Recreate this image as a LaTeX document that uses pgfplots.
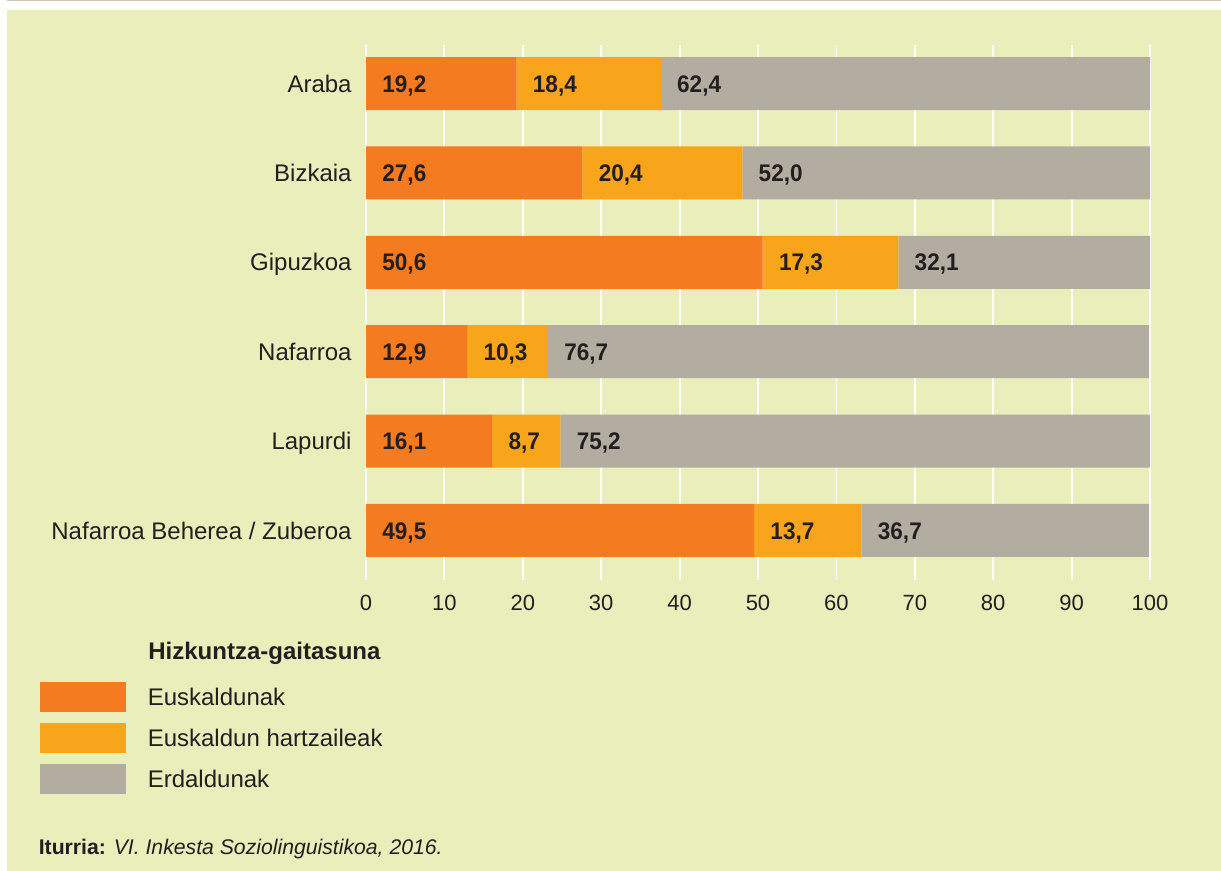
\documentclass[border=0pt]{standalone}
\usepackage{pgfplots}
\usepackage{pgfplotstable}
\pgfplotsset{compat=1.18}
\usepackage{fontspec}
\setmainfont{Liberation Sans}
\newfontfamily\lblfont{Liberation Sans}[FakeStretch=0.94]
\definecolor{orangeC}{HTML}{F47B20}
\definecolor{yellowC}{HTML}{F8A51C}
\definecolor{grayC}{HTML}{B3ADA1}
\definecolor{panelC}{HTML}{E9EEBA}
\definecolor{textC}{HTML}{231F20}
\definecolor{lineC}{HTML}{C9C6B5}
\pgfplotstableread{
y eu eh er
5 19.2 18.4 62.4
4 27.6 20.4 52.0
3 50.6 17.3 32.1
2 12.9 10.3 76.7
1 16.1 8.7 75.2
0 49.5 13.7 36.7
}\datatable
\pgfplotsset{geom/.style={
  at={(183pt,145.5pt)}, anchor=south west,
  scale only axis, width=392pt, height=267.5pt,
  xmin=0, xmax=100, ymin=-0.554, ymax=5.431}}
\begin{document}
\begin{tikzpicture}[x=1pt,y=1pt]
\fill[white] (0,0) rectangle (610.5,435.5);
\draw[lineC, line width=0.6pt] (3.5,435.2) -- (610.5,435.2);
\fill[panelC] (3.5,0) rectangle (610.5,430.5);
\begin{axis}[
  geom,
  xbar stacked, bar width=26.5pt,
  xtick={0,10,...,100}, ytick={0,...,5},
  yticklabels={Nafarroa Beherea / Zuberoa, Lapurdi, Nafarroa, Gipuzkoa, Bizkaia, Araba},
  axis line style={draw=none}, major tick length=0pt,
  xmajorgrids, ymajorgrids=false, grid style={white, line width=0.9pt},
  /pgf/number format/assume math mode=true,
  tick label style={text=textC},
  xticklabel style={font=\fontsize{11}{13}\selectfont, anchor=north, inner sep=0pt, yshift=-7.5pt},
  yticklabel style={font=\fontsize{12}{14}\selectfont, anchor=base east, inner sep=0pt, xshift=-7pt, yshift=-4.3pt},
  legend style={at={(axis description cs:-0.41582,-0.19009)}, anchor=north west,
    draw=none, fill=none, inner sep=0pt, outer sep=0pt, row sep=5.4pt,
    font=\fontsize{12}{14}\selectfont, text=textC,
    cells={anchor=base west, inner sep=0pt},
    /tikz/every odd column/.style={column sep=9pt}},
]
\addlegendimage{legend image code/.code={\fill[orangeC] (0pt,-2.95pt) rectangle (42.5pt,11.55pt);}}
\addlegendimage{legend image code/.code={\fill[yellowC] (0pt,-2.95pt) rectangle (42.5pt,11.55pt);}}
\addlegendimage{legend image code/.code={\fill[grayC] (0pt,-2.95pt) rectangle (42.5pt,11.55pt);}}
\legend{Euskaldunak, Euskaldun hartzaileak, Erdaldunak}
\addplot[fill=orangeC, draw=none] table[x=eu, y=y] {\datatable};
\addplot[fill=yellowC, draw=none] table[x=eh, y=y] {\datatable};
\addplot[fill=grayC, draw=none] table[x=er, y=y] {\datatable};
\end{axis}
\begin{axis}[
  geom, hide axis, clip=false,
  /pgf/number format/.cd, assume math mode=true, use comma, fixed, fixed zerofill, precision=1,
  /pgfplots/.cd,
  nodes near coords,
  nodes near coords style={font=\lblfont\fontsize{12}{14}\bfseries, text=textC, anchor=base west, inner sep=0pt, xshift=8pt, yshift=-4.3pt},
]
\addplot[only marks, mark=none, point meta=explicit] table[x expr=0, y=y, meta=eu] {\datatable};
\addplot[only marks, mark=none, point meta=explicit] table[x=eu, y=y, meta=eh] {\datatable};
\addplot[only marks, mark=none, point meta=explicit] table[x expr={\thisrow{eu}+\thisrow{eh}}, y=y, meta=er] {\datatable};
\end{axis}
\node[anchor=base west, inner sep=0pt, font=\fontsize{12}{14}\bfseries, text=textC] at (74,105.8) {Hizkuntza-gaitasuna};
\node[anchor=base west, inner sep=0pt, font=\fontsize{10.6}{13}\selectfont, text=textC] at (19.2,8) {\textbf{Iturria:} \textit{VI. Inkesta Soziolinguistikoa, 2016.}};
\pgfresetboundingbox
\path[use as bounding box] (0,0) rectangle (610.5,435.5);
\end{tikzpicture}
\end{document}
